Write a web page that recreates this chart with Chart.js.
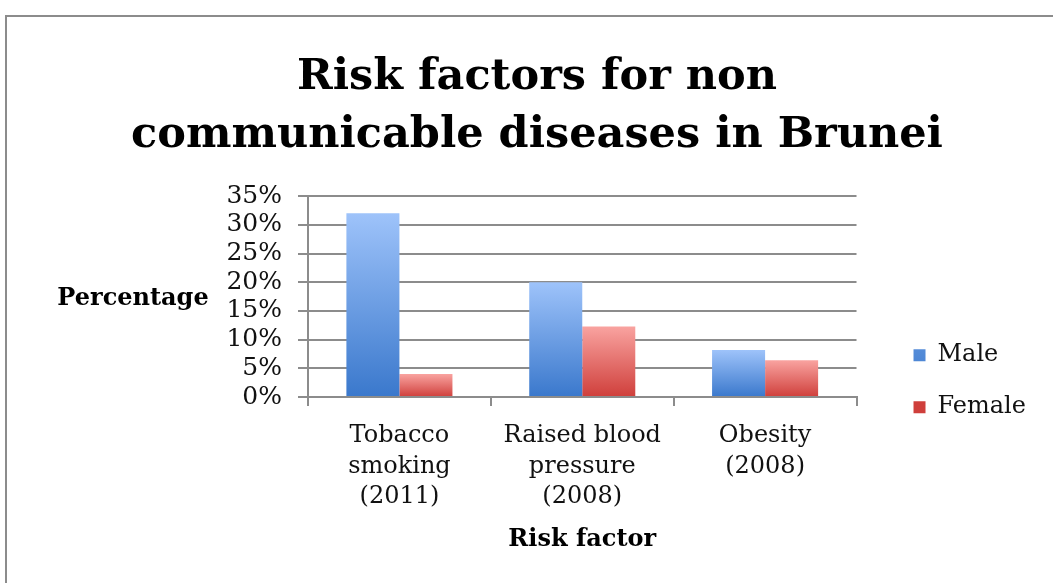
<!DOCTYPE html>
<html>
<head>
<meta charset="utf-8">
<script src="https://cdn.jsdelivr.net/npm/chart.js@4.4.1/dist/chart.umd.min.js"></script>
<style>
  html, body { margin: 0; padding: 0; background: #fff; overflow: hidden; }
  .rule { position: absolute; background: #8c8c8c; }
  #chart { position: absolute; left: 0; top: 0; }
</style>
</head>
<body>
<div class="rule" style="left:5px;top:15px;width:1048px;height:2px"></div>
<div class="rule" style="left:5px;top:15px;width:2px;height:568px"></div>
<canvas id="chart" width="1053" height="583"></canvas>
<script>
const categories = [
    ["Tobacco", "smoking", "(2011)"],
    ["Raised blood", "pressure", "(2008)"],
    ["Obesity", "(2008)"]
];
const maleValues = [32, 20, 8.2];
const femaleValues = [4, 12.3, 6.4];
const yTicks = [0, 5, 10, 15, 20, 25, 30, 35];

const fontFamily = "'DejaVu Serif', serif";
const gridColor = "#8c8c8c";

// vertical gradient per bar, light on top, dark at the base
function barFill(light, dark, solid) {
    return (ctx) => {
        const chart = ctx.chart;
        if (!chart.chartArea || ctx.raw === undefined) return solid;
        const y = chart.scales.y;
        const g = chart.ctx.createLinearGradient(0, y.getPixelForValue(ctx.raw), 0, y.getPixelForValue(0));
        g.addColorStop(0, light);
        g.addColorStop(1, dark);
        return g;
    };
}

// horizontal y axis title, Excel style
const sideTitle = {
    id: "sideTitle",
    afterDraw(chart) {
        const {ctx, chartArea} = chart;
        ctx.save();
        ctx.font = "bold 24px " + fontFamily;
        ctx.fillStyle = "#000";
        ctx.textAlign = "center";
        ctx.textBaseline = "middle";
        ctx.fillText("Percentage", chartArea.left - 175, (chartArea.top + chartArea.bottom) / 2 + 2);
        ctx.restore();
    }
};

new Chart(document.getElementById("chart"), {
    type: "bar",
    data: {
        labels: categories,
        datasets: [{
            label: "Male",
            data: maleValues,
            backgroundColor: barFill("#9ec3fa", "#3a78cc", "#5a91de"),
            borderWidth: 0
        }, {
            label: "Female",
            data: femaleValues,
            backgroundColor: barFill("#f9a3a0", "#cf3f3b", "#e06460"),
            borderWidth: 0
        }]
    },
    options: {
        responsive: false,
        animation: false,
        categoryPercentage: 0.58,
        barPercentage: 1,
        layout: {padding: {top: 0, bottom: 25, right: 17, left: 38}},
        plugins: {
            title: {
                display: true,
                text: ["Risk factors for non", "communicable diseases in Brunei"],
                font: {family: fontFamily, size: 43, weight: "bold", lineHeight: 1.35},
                color: "#000",
                padding: {top: 49, bottom: 31}
            },
            legend: {
                position: "right",
                // empty title only pushes the two entries down to where Excel puts them
                title: {display: true, text: " ", font: {size: 12}, padding: {top: 0, bottom: 190}},
                labels: {
                    font: {family: fontFamily, size: 24},
                    color: "#111",
                    boxWidth: 12,
                    boxHeight: 12,
                    padding: 28
                }
            },
            tooltip: {enabled: false}
        },
        scales: {
            x: {
                afterFit: (s) => { s.height = 161; },
                grid: {display: true, drawOnChartArea: false, drawTicks: true, tickLength: 9,
                       color: gridColor, lineWidth: 2},
                border: {display: true, color: gridColor, width: 2},
                ticks: {font: {family: fontFamily, size: 24, lineHeight: 1.27}, color: "#111", padding: 15},
                title: {display: true, text: "Risk factor", color: "#000",
                        font: {family: fontFamily, size: 24, weight: "bold"}, padding: {top: 3, bottom: 4}}
            },
            y: {
                min: yTicks[0],
                max: yTicks[yTicks.length - 1],
                afterBuildTicks: (s) => { s.ticks = yTicks.map(v => ({value: v})); },
                afterFit: (s) => { s.width = 270; },
                grid: {color: gridColor, lineWidth: 2, tickLength: 10},
                border: {display: true, color: gridColor, width: 2},
                ticks: {font: {family: fontFamily, size: 25}, color: "#111", padding: 16,
                        autoSkip: false, callback: (v) => v + "%"}
            },
            // blank strip between the plot and the legend
            gap: {
                type: "linear",
                position: "right",
                display: true,
                grid: {display: false},
                border: {display: false},
                ticks: {display: false},
                afterFit: (s) => { s.width = 29; }
            }
        }
    },
    plugins: [sideTitle]
});
</script>
</body>
</html>
